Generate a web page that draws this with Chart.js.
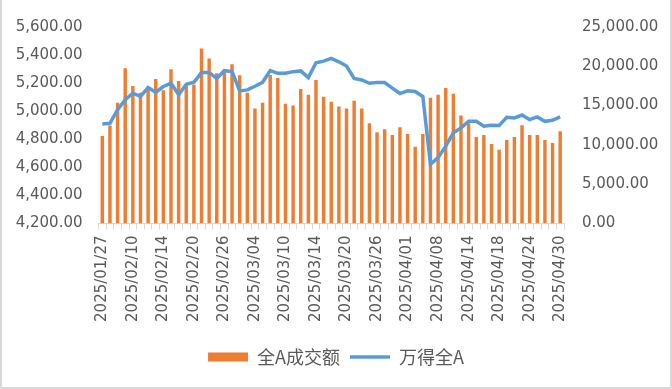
<!DOCTYPE html>
<html>
<head>
<meta charset="utf-8">
<script src="https://cdn.jsdelivr.net/npm/chart.js@4"></script>
<style>
  html, body { margin: 0; padding: 0; background: #fff; }
  #wrap {
    position: relative; width: 672px; height: 389px; box-sizing: border-box;
    border-left: 2px solid #d9d9d9; border-right: 2px solid #d9d9d9; border-bottom: 2px solid #d9d9d9;
    background: #fff;
  }
  #chart { display: block; }
</style>
</head>
<body>
<div id="wrap"><canvas id="chart" width="668" height="387"></canvas></div>
<script>
// ── Data ──────────────────────────────────────────────────────────────
const dates = [
    '2025/01/27', '2025/02/05', '2025/02/06', '2025/02/07', '2025/02/10', '2025/02/11', '2025/02/12',
    '2025/02/13', '2025/02/14', '2025/02/17', '2025/02/18', '2025/02/19', '2025/02/20', '2025/02/21',
    '2025/02/24', '2025/02/25', '2025/02/26', '2025/02/27', '2025/02/28', '2025/03/03', '2025/03/04',
    '2025/03/05', '2025/03/06', '2025/03/07', '2025/03/10', '2025/03/11', '2025/03/12', '2025/03/13',
    '2025/03/14', '2025/03/17', '2025/03/18', '2025/03/19', '2025/03/20', '2025/03/21', '2025/03/24',
    '2025/03/25', '2025/03/26', '2025/03/27', '2025/03/28', '2025/03/31', '2025/04/01', '2025/04/02',
    '2025/04/03', '2025/04/07', '2025/04/08', '2025/04/09', '2025/04/10', '2025/04/11', '2025/04/14',
    '2025/04/15', '2025/04/16', '2025/04/17', '2025/04/18', '2025/04/21', '2025/04/22', '2025/04/23',
    '2025/04/24', '2025/04/25', '2025/04/28', '2025/04/29', '2025/04/30'
];

// 全A成交额 (right axis)
const turnover = [
    11125, 12460, 15375, 19750, 17500, 16625, 17040, 18375, 16960, 19625, 18125, 17540, 17670, 22250,
    21000, 19125, 19625, 20250, 18875, 16625, 14625, 15375, 18900, 18500, 15250, 15000, 17125, 16375,
    18250, 16125, 15500, 14875, 14625, 15625, 14625, 12750, 11625, 12000, 11250, 12250, 11375, 9750,
    11375, 16000, 16375, 17250, 16500, 13750, 12750, 11000, 11250, 10125, 9375, 10625, 11000, 12500,
    11250, 11250, 10625, 10250, 11750
];

// 万得全A (left axis)
const windA = [
    4909, 4914, 5011, 5082, 5128, 5105, 5169, 5135, 5176, 5199, 5117, 5192, 5206, 5275,
    5275, 5234, 5289, 5282, 5145, 5152, 5178, 5206, 5289, 5270, 5270, 5282, 5287, 5239,
    5345, 5357, 5376, 5352, 5322, 5234, 5223, 5199, 5204, 5204, 5164, 5126, 5145, 5140,
    5105, 4622, 4669, 4751, 4846, 4881, 4928, 4928, 4893, 4900, 4898, 4957, 4952, 4973,
    4940, 4959, 4928, 4935, 4959
];

const seriesNames = ['全A成交额', '万得全A'];
const LABEL_EVERY = 4;

// ── Style ─────────────────────────────────────────────────────────────
const ORANGE = '#ED7D31';
const BLUE   = '#5B9BD5';
const TEXT   = '#595959';
const AXIS   = '#d9d9d9';
const FONT   = 'DejaVu Sans, "Noto Sans CJK SC", sans-serif';

const fmt = v => Number(v).toLocaleString('en-US', { minimumFractionDigits: 2, maximumFractionDigits: 2 });

// ── Chart ─────────────────────────────────────────────────────────────
new Chart(document.getElementById('chart'), {
    type: 'bar',
    data: {
        labels: dates,
        datasets: [
            {
                type: 'bar', label: seriesNames[0], data: turnover, yAxisID: 'y1',
                backgroundColor: ORANGE, categoryPercentage: 0.5, barPercentage: 0.9, order: 1
            },
            {
                type: 'line', label: seriesNames[1], data: windA, yAxisID: 'y',
                borderColor: BLUE, backgroundColor: BLUE, borderWidth: 3.5,
                pointRadius: 0, tension: 0, order: 0
            }
        ]
    },
    options: {
        responsive: false,
        animation: false,
        layout: { padding: { top: 17, bottom: 11, left: 0, right: 0 } },
        plugins: {
            tooltip: { enabled: false },
            legend: {
                position: 'bottom',
                labels: {
                    color: TEXT,
                    font: { family: '"Noto Sans CJK SC", sans-serif', size: 18 },
                    usePointStyle: true, pointStyleWidth: 40, boxHeight: 9, padding: 10,
                    sort: (a, b) => a.datasetIndex - b.datasetIndex,
                    generateLabels: chart => Chart.defaults.plugins.legend.labels.generateLabels(chart).map(it => {
                        if (it.datasetIndex === 0) {
                            it.pointStyle = 'rect'; it.fillStyle = ORANGE; it.lineWidth = 0; it.strokeStyle = ORANGE;
                        } else {
                            it.pointStyle = 'line'; it.strokeStyle = BLUE; it.lineWidth = 3.5;
                        }
                        return it;
                    })
                }
            }
        },
        scales: {
            x: {
                offset: true,
                grid: { display: true, drawOnChartArea: false, drawTicks: true, tickLength: 6, color: AXIS, offset: true },
                border: { display: true, color: AXIS },
                ticks: {
                    autoSkip: false, maxRotation: 90, minRotation: 90, padding: 6,
                    color: TEXT, font: { family: FONT, size: 15 },
                    callback: (v, i) => i % LABEL_EVERY === 0 ? dates[i] : ''
                },
                afterFit: s => { s.height = 114.5; }
            },
            y: {
                position: 'left', min: 4200, max: 5600,
                grid: { display: false, drawTicks: false },
                border: { display: false },
                ticks: { stepSize: 200, padding: 16, color: TEXT, font: { family: FONT, size: 15 }, callback: fmt },
                afterFit: s => { s.width = 96.5; }
            },
            y1: {
                position: 'right', min: 0, max: 25000,
                grid: { display: false, drawTicks: false },
                border: { display: false },
                ticks: { stepSize: 5000, padding: 18, color: TEXT, font: { family: FONT, size: 15 }, callback: fmt },
                afterFit: s => { s.width = 106; }
            }
        }
    }
});
</script>
</body>
</html>
